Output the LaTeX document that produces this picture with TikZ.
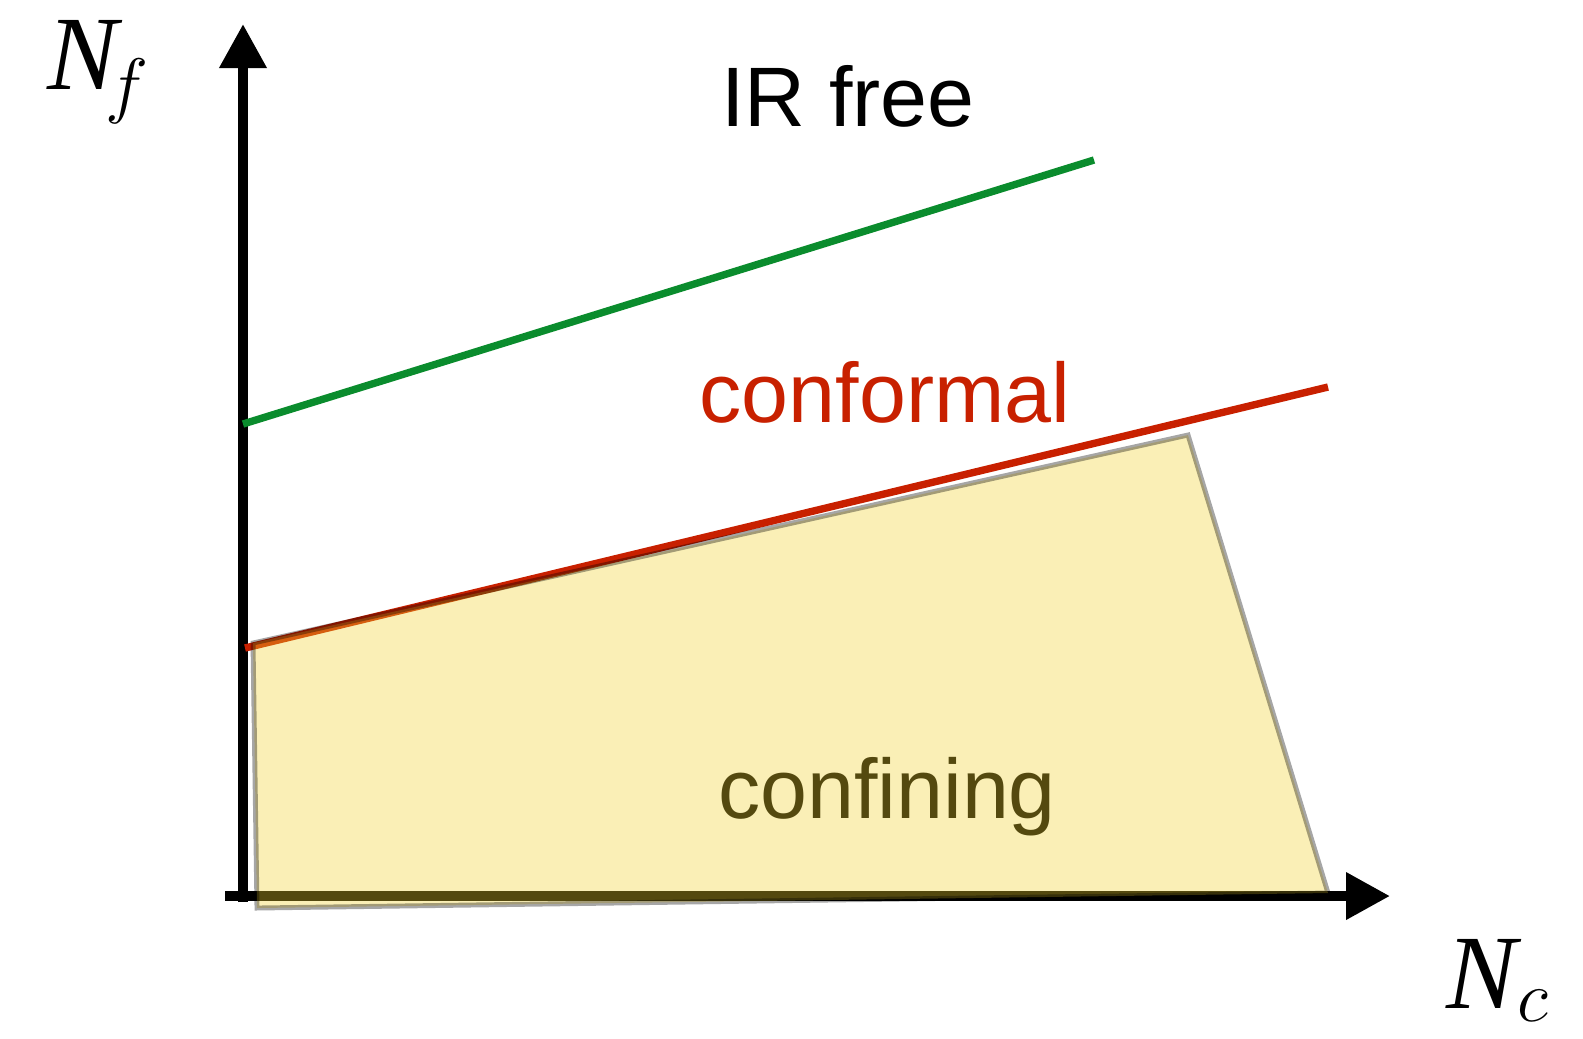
\documentclass[tikz,border=0pt]{standalone}
\usepackage{amsmath}
\usepackage{fontspec}
\setmainfont{Liberation Sans}
\newfontfamily\serif{Liberation Serif}
\usepackage{xcolor}
\usetikzlibrary{arrows.meta, positioning}
\definecolor{irgreen}{RGB}{10,140,45}
\definecolor{confred}{RGB}{200,32,0}
\definecolor{confyellow}{RGB}{241,210,45}
\tikzset{
  axis/.style={line width=2.85pt, -{Triangle[length=0.44cm, width=0.45cm]}},
  bound/.style={line width=2.1pt},
  region/.style={font=\fontsize{24}{28}\selectfont, anchor=base},
  axlabel/.style={font=\fontsize{30}{36}\selectfont, anchor=base west, inner sep=0pt},
  confarea/.style={fill=confyellow, fill opacity=0.35, draw=black,
                   draw opacity=0.35, line width=1.4pt, line join=miter}
}

\begin{document}
\begin{tikzpicture}[x=0.01cm, y=-0.01cm]
  \useasboundingbox (0,0) rectangle (1583,1038);
  % axes
  \coordinate (origin) at (243,896);
  \coordinate (xstart) at (225,896);
  \coordinate (ybot) at (243,902);
  \coordinate (ytop) at (243,24);
  \coordinate (xend) at (1390,896);
  \draw[axis] (ybot) -- (ytop);
  \draw[axis] (xstart) -- (xend);
  \node[axlabel] (nf) at (47,89) {{\serif\itshape N}$_{\!f}$};
  \node[axlabel] (nc) at (1446,1008) {{\serif\itshape N}$_{c}$};

  % phase boundaries
  \coordinate (ga) at (243,424);
  \coordinate (gb) at (1094,160);
  \coordinate (ra) at (245,648);
  \coordinate (rb) at (1328,387);
  \draw[bound, irgreen] (ga) -- (gb);
  \draw[bound, confred] (ra) -- (rb);

  % labels
  \node[region] (irfree) at (848,126) {IR free};
  \node[region, text=confred] (conf) at (885,422) {conformal};
  \node[region] (confin) at (887,818) {confining};

  % confining window
  \coordinate (pa) at (253,643);
  \coordinate (pb) at (1188,435);
  \coordinate (pc) at (1328,893);
  \coordinate (pd) at (257,908);
  \draw[confarea] (pa) -- (pb) -- (pc) -- (pd) -- cycle;
\end{tikzpicture}
\end{document}
